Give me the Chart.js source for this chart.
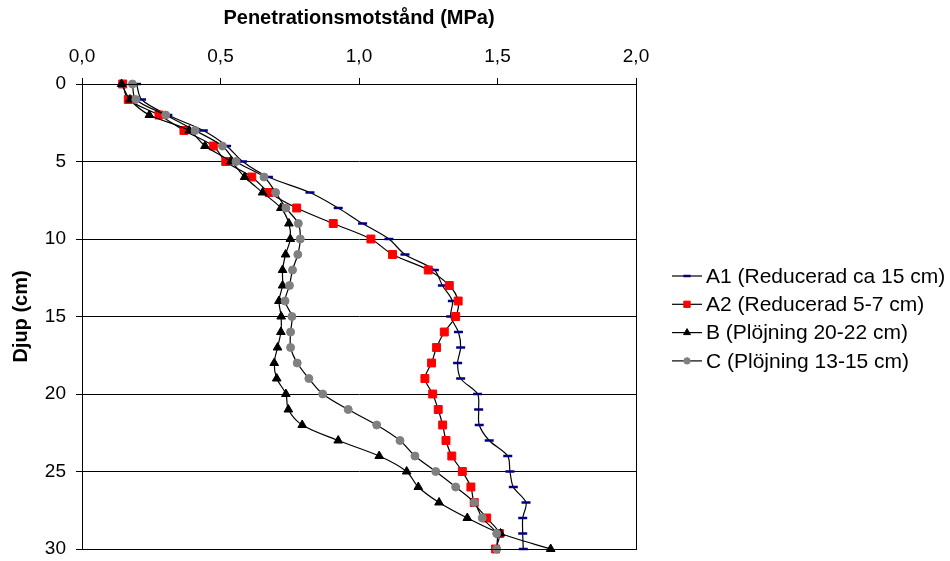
<!DOCTYPE html>
<html>
<head>
<meta charset="utf-8">
<script src="https://cdn.jsdelivr.net/npm/chart.js@4/dist/chart.umd.min.js"></script>
<style>
  body { margin: 0; background: #fff; }
  #wrap { width: 950px; height: 561px; }
</style>
</head>
<body>
<div id="wrap"><canvas id="grafDjup" width="950" height="561"></canvas></div>
<script>
// Djup (cm) och penetrationsmotstånd (MPa) per led
const djup = [0, 1, 2, 3, 4, 5, 6, 7, 8, 9, 10, 11, 12, 13, 14, 15, 16, 17, 18, 19, 20, 21, 22, 23, 24, 25, 26, 27, 28, 29, 30];
const serieNamn = ["A1 (Reducerad ca 15 cm)", "A2 (Reducerad 5-7 cm)", "B (Plöjning 20-22 cm)", "C (Plöjning 13-15 cm)"];
const a1 = [0.197, 0.215, 0.31, 0.438, 0.522, 0.580, 0.673, 0.823, 0.925, 1.013, 1.108, 1.166, 1.272, 1.301, 1.337, 1.331, 1.359, 1.367, 1.356, 1.367, 1.428, 1.432, 1.434, 1.470, 1.537, 1.545, 1.557, 1.603, 1.591, 1.591, 1.593];
const a2 = [0.147, 0.167, 0.278, 0.368, 0.474, 0.519, 0.613, 0.676, 0.775, 0.907, 1.043, 1.121, 1.250, 1.326, 1.358, 1.349, 1.308, 1.280, 1.262, 1.238, 1.266, 1.286, 1.302, 1.314, 1.335, 1.373, 1.404, 1.416, 1.461, 1.507, 1.493];
const b = [0.143, 0.173, 0.243, 0.387, 0.444, 0.537, 0.587, 0.652, 0.718, 0.747, 0.752, 0.735, 0.724, 0.724, 0.711, 0.719, 0.718, 0.706, 0.694, 0.703, 0.736, 0.745, 0.795, 0.925, 1.073, 1.172, 1.214, 1.289, 1.391, 1.511, 1.692];
const c = [0.182, 0.194, 0.302, 0.408, 0.507, 0.556, 0.657, 0.699, 0.736, 0.781, 0.788, 0.779, 0.760, 0.749, 0.733, 0.758, 0.753, 0.753, 0.777, 0.819, 0.869, 0.961, 1.064, 1.148, 1.202, 1.277, 1.349, 1.416, 1.445, 1.497, 1.497];

const typsnitt = "'Liberation Sans', Arial, sans-serif";

function punkter(varden) {
    return varden.map((v, i) => ({ x: v, y: djup[i] }));
}

function serie(idx, varden, stil, farg, radie, ordning) {
    return {
        label: serieNamn[idx],
        data: punkter(varden),
        showLine: true,
        borderColor: "#000",
        borderWidth: 1.2,
        tension: 0.3,
        pointStyle: stil,
        pointRadius: radie,
        pointHoverRadius: radie,
        pointBackgroundColor: farg,
        pointBorderColor: farg,
        pointBorderWidth: stil === "line" ? 2.5 : 1,
        clip: false,
        order: ordning
    };
}

// ram runt ritytan + egen förklaring (linje med markör)
const ramOchForklaring = {
    id: "ramOchForklaring",
    afterDraw(chart) {
        const ctx = chart.ctx;
        const a = chart.chartArea;
        ctx.save();
        ctx.strokeStyle = "#000";
        ctx.lineWidth = 1;
        ctx.strokeRect(a.left + 0.5, a.top + 0.5, a.right - a.left, a.bottom - a.top);

        ctx.font = "21px " + typsnitt;
        ctx.textBaseline = "middle";
        ctx.textAlign = "left";
        chart.data.datasets.forEach((ds, i) => {
            const y = 276 + i * 28.3;
            ctx.strokeStyle = "#000";
            ctx.lineWidth = 1.2;
            ctx.beginPath();
            ctx.moveTo(672, y);
            ctx.lineTo(702, y);
            ctx.stroke();
            ctx.fillStyle = ds.pointBackgroundColor;
            ctx.strokeStyle = ds.pointBorderColor;
            ctx.lineWidth = ds.pointBorderWidth;
            Chart.helpers.drawPoint(ctx, {
                pointStyle: ds.pointStyle,
                radius: ds.pointRadius * 0.8,
                rotation: 0,
                borderWidth: ds.pointBorderWidth
            }, 687, y);
            ctx.fillStyle = "#000";
            ctx.fillText(ds.label, 706, y + 1);
        });
        ctx.restore();
    }
};

new Chart(document.getElementById("grafDjup").getContext("2d"), {
    type: "scatter",
    data: {
        datasets: [
            serie(0, a1, "line", "#000080", 4.5, 4),
            serie(1, a2, "rect", "#FF0000", 5.6, 3),
            serie(2, b, "triangle", "#000", 5, 2),
            serie(3, c, "circle", "#808080", 4, 1)
        ]
    },
    options: {
        responsive: false,
        animation: false,
        layout: { padding: { top: 0, left: 0, right: 314, bottom: 12 } },
        plugins: {
            legend: { display: false },
            tooltip: { enabled: false }
        },
        scales: {
            x: {
                type: "linear",
                position: "top",
                min: 0,
                max: 2,
                afterFit: (s) => { s.height = 84; },
                ticks: {
                    stepSize: 0.5,
                    color: "#000",
                    padding: 10,
                    font: { family: typsnitt, size: 19 },
                    callback: (v) => v.toFixed(1).replace(".", ",")
                },
                grid: { drawOnChartArea: false, color: "#000", tickLength: 6 },
                border: { color: "#000", width: 1 },
                title: {
                    display: true,
                    text: "Penetrationsmotstånd (MPa)",
                    color: "#000",
                    padding: { top: 6, bottom: 0 },
                    font: { family: typsnitt, size: 20, weight: "bold" }
                }
            },
            y: {
                type: "linear",
                reverse: true,
                min: 0,
                max: 30,
                afterFit: (s) => {
                    s.width = 82;
                    s.paddingTop = 0;
                    s.paddingBottom = 0;
                },
                ticks: {
                    stepSize: 5,
                    color: "#000",
                    padding: 10,
                    font: { family: typsnitt, size: 19 }
                },
                grid: { color: "#000", tickLength: 6 },
                border: { color: "#000", width: 1 },
                title: {
                    display: true,
                    text: "Djup (cm)",
                    color: "#000",
                    padding: { top: 9, bottom: 0 },
                    font: { family: typsnitt, size: 20, weight: "bold" }
                }
            }
        }
    },
    plugins: [ramOchForklaring]
});
</script>
</body>
</html>
